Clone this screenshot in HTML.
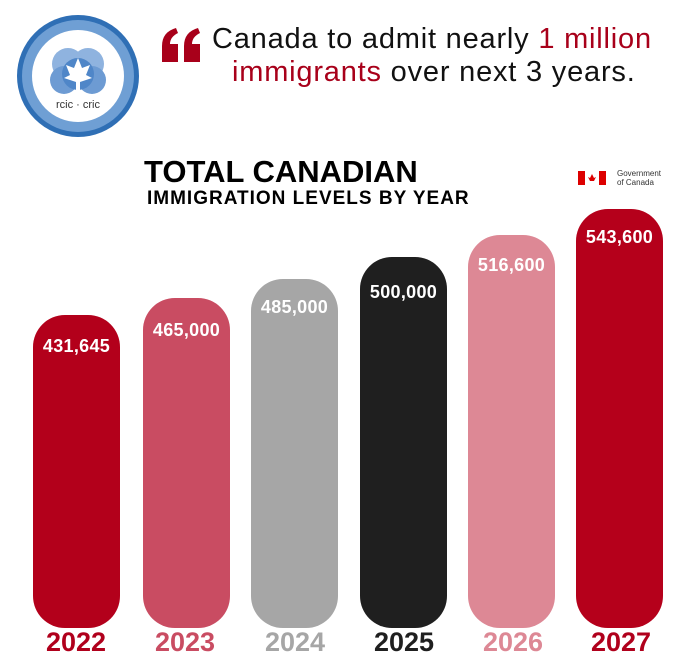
<!DOCTYPE html>
<html><head><meta charset="utf-8"><style>
body{margin:0;width:681px;height:670px;background:#fff;position:relative;overflow:hidden;font-family:"Liberation Sans",sans-serif}
.a{position:absolute}
.bar{position:absolute;width:87px;bottom:42px;border-radius:32px}
.v{position:absolute;width:100%;text-align:center;color:#fff;font-weight:bold;font-size:18px;letter-spacing:0.3px}
.y{position:absolute;top:627px;width:120px;text-align:center;font-weight:bold;font-size:27px}
</style></head><body>
<svg class="a" style="left:14px;top:12px" width="128" height="128" viewBox="0 0 128 128">
<circle cx="64" cy="64" r="61" fill="#2f6fb5"/>
<circle cx="64" cy="64" r="56" fill="#6f9fd4"/>
<circle cx="64" cy="64" r="46" fill="#fff"/>
<circle cx="54" cy="52" r="16" fill="#8fb3df"/><circle cx="74" cy="52" r="16" fill="#8fb3df"/>
<circle cx="50" cy="68" r="14" fill="#6d9bd3"/><circle cx="78" cy="68" r="14" fill="#6d9bd3"/>
<circle cx="64" cy="62" r="16" fill="#4f86c8"/>
<path d="M64 46 L68 56 L76 53 L72 63 L78 66 L66 70 L66 78 L62 78 L62 70 L50 66 L56 63 L52 53 L60 56Z" fill="#fff"/>
<text x="64" y="96" text-anchor="middle" font-size="11" fill="#333" font-family="Liberation Sans">rcic · cric</text>
</svg>
<svg class="a" style="left:160px;top:28px" width="42" height="34" viewBox="0 0 42 34">
<path d="M2 34 L2 18 Q2 4 16 0 L18 5 Q10 9 10 16 L18 16 L18 34Z M24 34 L24 18 Q24 4 38 0 L40 5 Q32 9 32 16 L40 16 L40 34Z" fill="#a8001a"/>
</svg>
<div class="a" style="left:212px;top:23px;font-size:29px;letter-spacing:0.8px;line-height:33px;color:#111;white-space:nowrap">Canada to admit nearly <span style="color:#a8001a">1 million</span></div>
<div class="a" style="left:232px;top:56px;font-size:29px;letter-spacing:0.8px;line-height:33px;color:#111;white-space:nowrap"><span style="color:#a8001a">immigrants</span> over next 3 years.</div>
<div class="a" style="left:144px;top:154px;font-size:31px;font-weight:bold;color:#000;line-height:36px">TOTAL CANADIAN</div>
<div class="a" style="left:147px;top:188px;font-size:19px;letter-spacing:1px;font-weight:bold;color:#000;line-height:22px">IMMIGRATION LEVELS BY YEAR</div>
<svg class="a" style="left:578px;top:171px" width="28" height="14"><rect width="28" height="14" fill="#d00"/><rect x="7" width="14" height="14" fill="#fff"/><path d="M14 3 L16 7 L18 6 L16 10 L12 10 L10 6 L12 7Z" fill="#d00"/></svg>
<div class="a" style="left:617px;top:169px;font-size:8px;line-height:9px;color:#333">Government<br>of Canada</div>

<div class="bar" style="left:33px;top:315px;background:#b3001b"><div class="v" style="top:21px">431,645</div></div>
<div class="bar" style="left:143px;top:298px;background:#c94c62"><div class="v" style="top:22px">465,000</div></div>
<div class="bar" style="left:251px;top:279px;background:#a6a6a6"><div class="v" style="top:18px">485,000</div></div>
<div class="bar" style="left:360px;top:257px;background:#1f1f1f"><div class="v" style="top:25px">500,000</div></div>
<div class="bar" style="left:468px;top:235px;background:#dd8895"><div class="v" style="top:20px">516,600</div></div>
<div class="bar" style="left:576px;top:209px;background:#b5001b"><div class="v" style="top:18px">543,600</div></div>

<div class="y" style="left:16px;color:#b0001c">2022</div>
<div class="y" style="left:125px;color:#c94c62">2023</div>
<div class="y" style="left:235px;color:#a6a6a6">2024</div>
<div class="y" style="left:344px;color:#1f1f1f">2025</div>
<div class="y" style="left:453px;color:#dd8895">2026</div>
<div class="y" style="left:561px;color:#b0001c">2027</div>
</body></html>
